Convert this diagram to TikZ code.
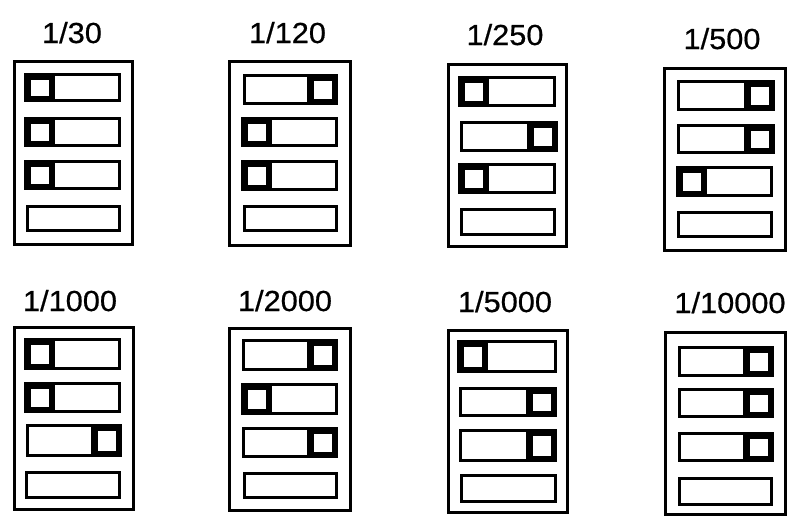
\documentclass[tikz,border=0pt]{standalone}
\usepackage{fontspec}
\setmainfont[FakeStretch=1.06,FakeBold=0.6]{Liberation Sans}
\tikzset{
  boxline/.style={line width=2.7pt, draw=black},
  swline/.style={line width=3.2pt, draw=black},
  knobline/.style={line width=6.5pt, draw=black},
  lbl/.style={anchor=base, inner sep=0pt, font=\fontsize{29}{32}\selectfont}
}
% outer-edge helpers
\newcommand\pbox[4]{\draw[boxline] (#1+1.35,#2+1.35) rectangle (#3-1.35,#4-1.35);}
\newcommand\swN[4]{\draw[swline] (#1+1.6,#2+1.6) rectangle (#3-1.6,#4-1.6);}
\newcommand\swL[4]{\swN{#1}{#2}{#3}{#4}\draw[knobline] (#1+3.25,#2+3.25) rectangle (#1+27.75,#4-3.25);}
\newcommand\swR[4]{\swN{#1}{#2}{#3}{#4}\draw[knobline] (#3-27.75,#2+3.25) rectangle (#3-3.25,#4-3.25);}
\begin{document}
\begin{tikzpicture}[x=1pt,y=-1pt]
\useasboundingbox (0,0) rectangle (796,515);
% ---- row 1 ----
\node[lbl] (l1) at (72,43) {1/30};
\pbox{13}{60}{134}{246}
\swL{24}{73}{121}{102}
\swL{24}{117}{121}{147}
\swL{24}{160}{121}{190}
\swN{26}{205}{121}{232}

\node[lbl] (l2) at (287.5,43) {1/120};
\pbox{228}{60}{352}{247}
\swR{243}{74}{338}{105}
\swL{241}{117}{338}{147}
\swL{241}{160}{338}{191}
\swN{243}{205}{338}{232}

\node[lbl] (l3) at (505,45) {1/250};
\pbox{447}{63}{568}{248}
\swL{458}{76}{556}{107}
\swR{460}{121}{558}{152}
\swL{458}{163}{556}{194}
\swN{460}{208}{556}{236}

\node[lbl] (l4) at (722,49) {1/500};
\pbox{663}{67}{787}{252}
\swR{677}{80}{775}{111}
\swR{677}{124}{775}{154}
\swL{676}{166}{773}{197}
\swN{677}{211}{773}{238}
% ---- row 2 ----
\node[lbl] (l5) at (70,311) {1/1000};
\pbox{13}{326}{135}{511}
\swL{24}{338}{121}{370}
\swL{24}{382}{121}{413}
\swR{26}{424}{122}{457}
\swN{25}{471}{121}{499}

\node[lbl] (l6) at (285,311) {1/2000};
\pbox{228}{327}{352}{512}
\swR{242}{339}{338}{371}
\swL{241}{383}{338}{415}
\swR{242}{427}{338}{458}
\swN{243}{472}{338}{499}

\node[lbl] (l7) at (505,312) {1/5000};
\pbox{447}{329}{569}{514}
\swL{457}{340}{557}{373}
\swR{459}{387}{557}{417}
\swR{459}{429}{557}{462}
\swN{460}{474}{557}{503}

\node[lbl] (l8) at (730,313) {1/10000};
\pbox{664}{331}{787}{516}
\swR{678}{346}{774}{377}
\swR{678}{388}{774}{418}
\swR{678}{432}{774}{462}
\swN{678}{477}{773}{506}
\end{tikzpicture}
\end{document}
